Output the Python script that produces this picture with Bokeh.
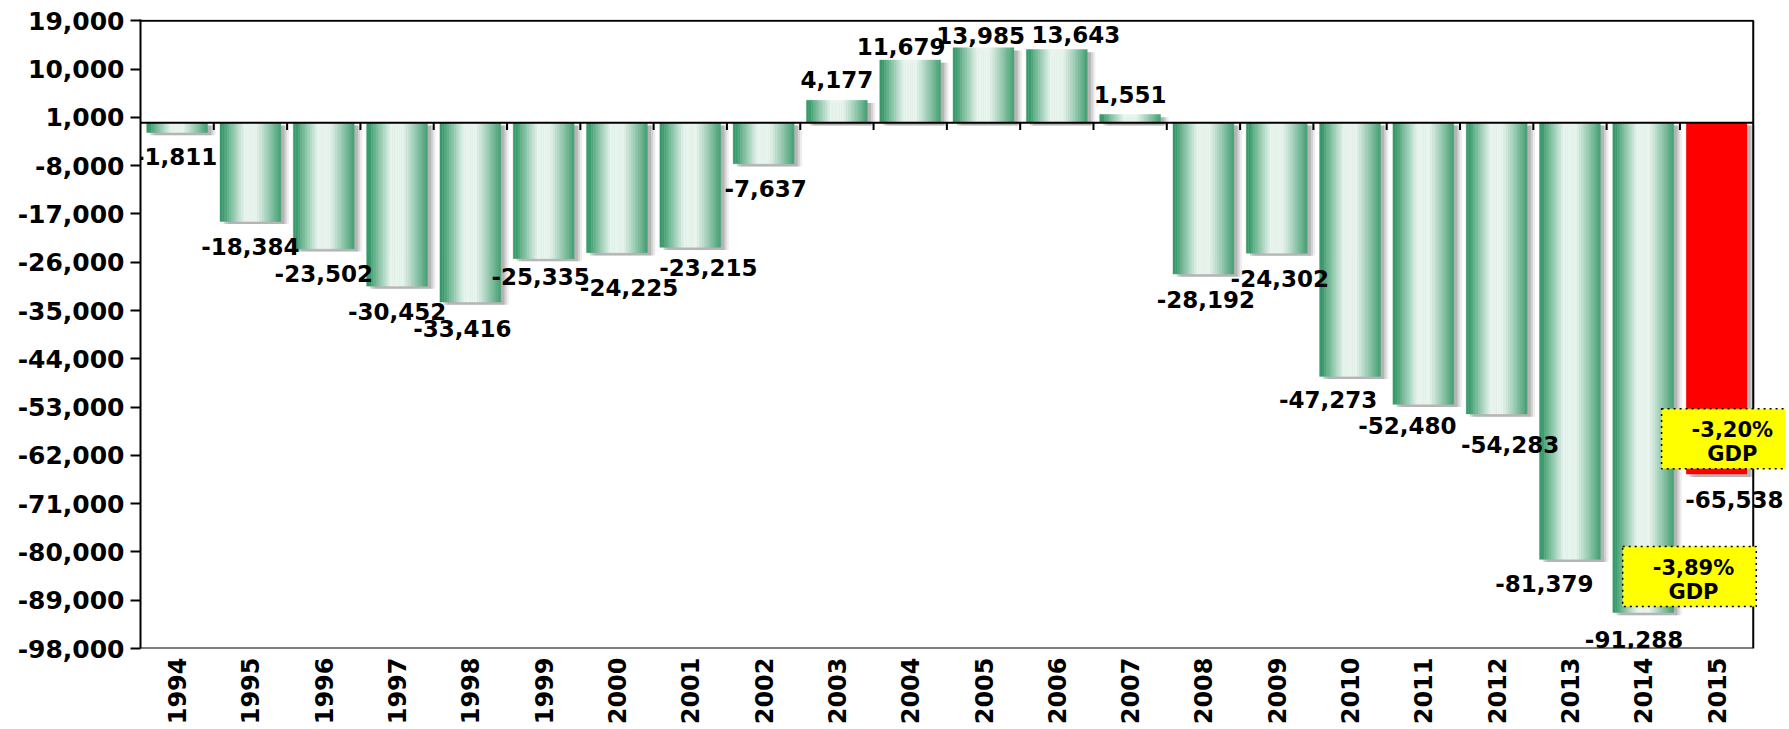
import math
import numpy as np
from bokeh.plotting import figure
from bokeh.models import ColumnDataSource, FixedTicker, NumeralTickFormatter, Range1d, Label
from bokeh.transform import dodge
from bokeh.core.properties import value
from bokeh.embed import file_html
from bokeh.resources import INLINE

# ---------------- data ----------------
years = ["1994", "1995", "1996", "1997", "1998", "1999", "2000", "2001", "2002", "2003", "2004",
         "2005", "2006", "2007", "2008", "2009", "2010", "2011", "2012", "2013", "2014", "2015"]
balance = [-1811, -18384, -23502, -30452, -33416, -25335, -24225, -23215, -7637, 4177, 11679,
           13985, 13643, 1551, -28192, -24302, -47273, -52480, -54283, -81379, -91288, -65538]
highlight_year = "2015"
y_ticks = list(range(-98000, 19001, 9000))
note_years = ["2014", "2015"]
note_values = [-84600, -58900]
note_texts = ["-3,89%\nGDP", "-3,20%\nGDP"]

# ---------------- style: label nudges in screen pixels ----------------
label_dx = [-1, 0, 0, 0, -8, -3, 12, 18, 2, 0, -9, -3, 19, 0, 2.5, 3, -22, -16, 13.5, -25.6, -9.3, 17.7]
label_gap = [15.3, 15.7, 15.7, 16, 17, 9, 25.3, 10.7, 15.7, 12.7, 5, 4, 7, 11, 16.7, 16, 14, 11.7,
             22, 15, 17.6, 15.7]
note_dx = [0.63, 0.215]
note_pad = [dict(left=30, right=22, top=9, bottom=3), dict(left=30, right=30, top=9, bottom=3)]

FONT = "DejaVu Sans"
BAR_W = 0.83
n = len(years)
xc = [i + 0.5 for i in range(n)]          # category centres on a numeric scale
y_lo, y_hi = y_ticks[0], y_ticks[-1]

def src(idx):
    v = [balance[i] for i in idx]
    return ColumnDataSource(dict(
        x=[xc[i] for i in idx],
        val=v,
        zero=[0] * len(v),
        sh_top=[max(q, 0) - 500 for q in v],
        sh_bot=[min(q, 0) - 500 for q in v],
    ))

green_idx = [i for i, y in enumerate(years) if y != highlight_year]
red_idx = [i for i, y in enumerate(years) if y == highlight_year]
src_g = src(green_idx)
src_r = src(red_idx)
src_all = src(list(range(n)))

W, H = 1785, 727
p = figure(x_range=Range1d(0, n + 0.44), y_range=Range1d(y_lo, y_hi + 250),
           width=W, height=H, output_backend="svg", toolbar_location=None,
           min_border_left=140, min_border_right=0, min_border_top=19, min_border_bottom=70)
p.background_fill_color = "white"
p.border_fill_color = "white"
p.outline_line_color = None
p.xgrid.grid_line_color = None
p.ygrid.grid_line_color = None

# shadows
for off, a in [(0.11, 0.12), (0.08, 0.2), (0.05, 0.3)]:
    p.vbar(x=dodge("x", off), top="sh_top", bottom="sh_bot", width=BAR_W,
           source=src_all, fill_color="#6f6f6f", fill_alpha=a, line_color=None)

# gradient green bars as strips
dark = np.array([56, 154, 106])
light = np.array([232, 245, 238])
N = 26
sw = BAR_W / N
for i in range(N):
    t = (i + 0.5) / N
    if t < 0.05:
        L = 0.0
    elif t < 0.40:
        s = (t - 0.05) / 0.35
        L = s ** 0.95
    elif t < 0.60:
        L = 1.0
    else:
        s = (t - 0.60) / 0.40
        L = 1.0 - 0.94 * s ** 1.05
    c = dark + (light - dark) * L
    col = "#%02x%02x%02x" % tuple(int(round(q)) for q in c)
    off = -BAR_W / 2 + (i + 0.5) * sw
    p.vbar(x=dodge("x", off), top="val", bottom="zero", width=sw * 1.03,
           source=src_g, fill_color=col, line_color=col, line_width=0.4)

# highlighted bar
p.vbar(x="x", top="val", bottom="zero", width=BAR_W, source=src_r,
       fill_color="#ff0000", line_color=None)

# zero line and category ticks
p.line(x=[0, n], y=[0, 0], line_color="black", line_width=2)
bounds = list(range(1, n))
p.segment(x0=bounds, x1=bounds, y0=[0] * len(bounds), y1=[-1350] * len(bounds),
          line_color="black", line_width=2)

# frame (top, right, bottom) around the category area
p.line(x=[0, n, n, 0], y=[y_hi, y_hi, y_lo, y_lo], line_color="black", line_width=2)

# value labels
neg_i = [i for i, v in enumerate(balance) if v < 0]
pos_i = [i for i, v in enumerate(balance) if v >= 0]
neg = ColumnDataSource(dict(
    x=[xc[i] for i in neg_i], val=[balance[i] for i in neg_i],
    label=[f"{balance[i]:,}" for i in neg_i],
    dx=[label_dx[i] for i in neg_i], dy=[label_gap[i] + 0.5 for i in neg_i]))
pos = ColumnDataSource(dict(
    x=[xc[i] for i in pos_i], val=[balance[i] for i in pos_i],
    label=[f"{balance[i]:,}" for i in pos_i],
    dx=[label_dx[i] for i in pos_i], dy=[-label_gap[i] for i in pos_i]))
p.text(x="x", y="val", text="label", source=neg, text_align="center", text_baseline="top",
       x_offset="dx", y_offset="dy", text_font=value(FONT), text_font_style="bold",
       text_font_size="23px", text_color="black")
p.text(x="x", y="val", text="label", source=pos, text_align="center", text_baseline="bottom",
       x_offset="dx", y_offset="dy", text_font=value(FONT), text_font_style="bold",
       text_font_size="23px", text_color="black")

# notes
for yr, v, t, dx, pad in zip(note_years, note_values, note_texts, note_dx, note_pad):
    xi = xc[years.index(yr)] + dx
    p.add_layout(Label(x=xi, y=v, text=t, text_align="center", text_baseline="middle",
                       text_font=FONT, text_font_style="bold", text_font_size="21px",
                       text_color="black", text_line_height=1.0,
                       background_fill_color="#ffff00", border_line_color="black",
                       border_line_dash="dotted", border_line_width=1.5,
                       padding=pad))

# axes
p.yaxis.ticker = FixedTicker(ticks=y_ticks)
p.yaxis.formatter = NumeralTickFormatter(format="0,0")
p.yaxis.major_label_text_font = FONT
p.yaxis.major_label_text_font_style = "bold"
p.yaxis.major_label_text_font_size = "25px"
p.yaxis.major_label_text_color = "black"
p.yaxis.major_tick_out = 10
p.yaxis.major_tick_in = 0
p.yaxis.minor_tick_line_color = None
p.yaxis.major_tick_line_width = 2
p.yaxis.axis_line_width = 2
p.yaxis.axis_line_color = "black"
p.yaxis.major_label_standoff = 6

p.xaxis.ticker = FixedTicker(ticks=xc)
p.xaxis.major_label_overrides = {c: y for c, y in zip(xc, years)}
p.xaxis.major_label_orientation = math.pi / 2
p.xaxis.major_label_text_font = FONT
p.xaxis.major_label_text_font_style = "bold"
p.xaxis.major_label_text_font_size = "24px"
p.xaxis.major_label_text_color = "black"
p.xaxis.major_tick_line_color = None
p.xaxis.minor_tick_line_color = None
p.xaxis.major_tick_out = 0
p.xaxis.major_label_standoff = 9
p.xaxis.axis_line_color = None

open("out.html", "w").write(file_html(p, INLINE))
